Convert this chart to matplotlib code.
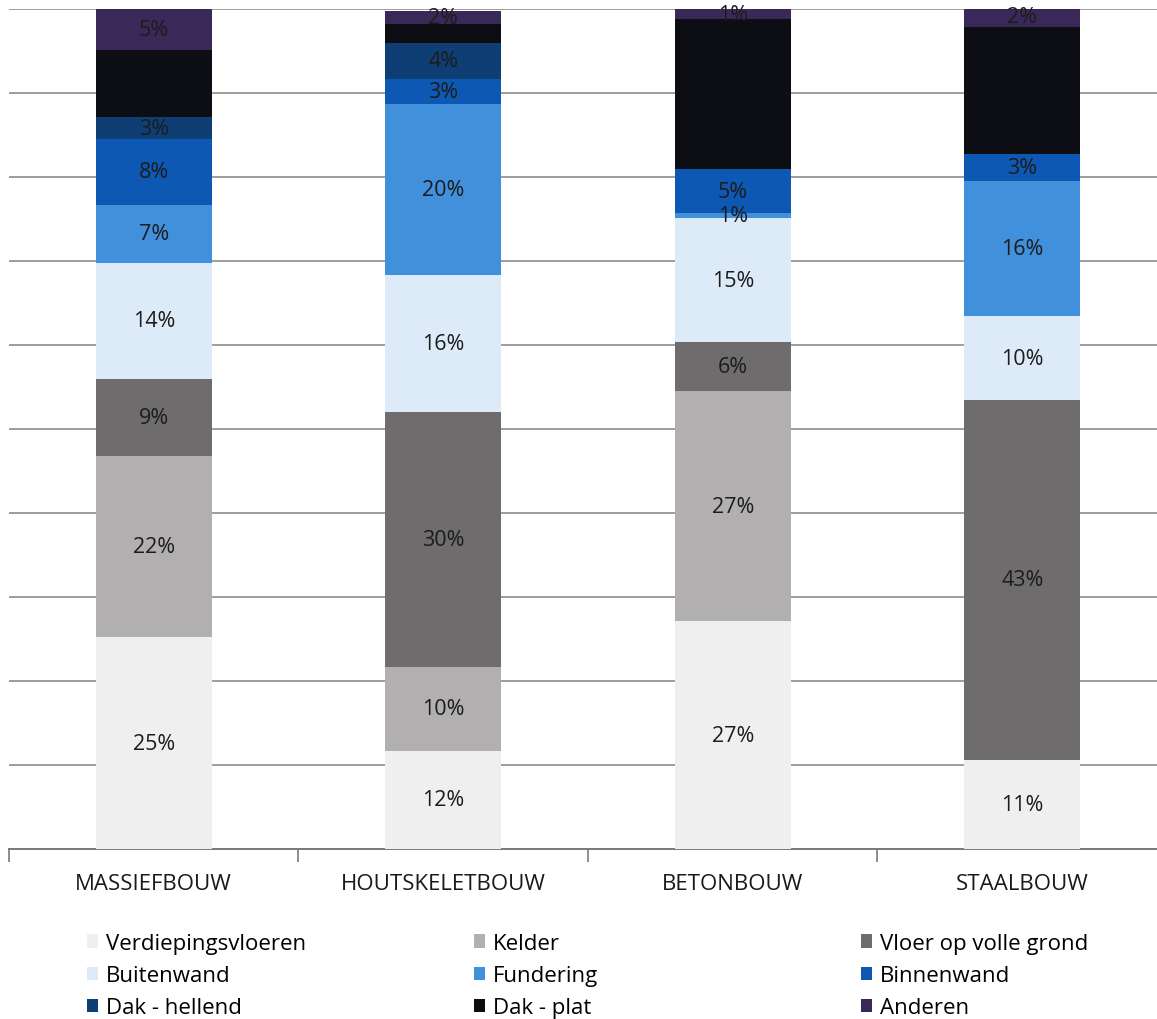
import matplotlib
matplotlib.use("Agg")
import matplotlib.pyplot as plt
import numpy as np

plt.rcParams['font.family'] = ['Open Sans', 'DejaVu Sans']

categories = ["MASSIEFBOUW", "HOUTSKELETBOUW", "BETONBOUW", "STAALBOUW"]

series_names = [
    "Verdiepingsvloeren", "Kelder", "Vloer op volle grond",
    "Buitenwand", "Fundering", "Binnenwand",
    "Dak - hellend", "Dak - plat", "Anderen",
]

verdiepingsvloeren = [25.2, 11.7, 27.1, 10.6]
kelder = [21.6, 10.0, 27.4, 0.0]
vloer_op_volle_grond = [9.2, 30.3, 5.8, 42.9]
buitenwand = [13.8, 16.3, 14.8, 9.9]
fundering = [6.9, 20.4, 0.6, 16.1]
binnenwand = [7.8, 3.0, 5.2, 3.2]
dak_hellend = [2.6, 4.3, 0.0, 0.0]
dak_plat = [8.0, 2.2, 17.9, 15.2]
anderen = [4.9, 1.6, 1.2, 2.4]

series_values = [
    verdiepingsvloeren, kelder, vloer_op_volle_grond,
    buitenwand, fundering, binnenwand,
    dak_hellend, dak_plat, anderen,
]

colors = [
    "#efefef", "#b2afb0", "#6f6c6d",
    "#ddebf8", "#4190dc", "#0c58b2",
    "#0e3e74", "#0c0e13", "#3a2858",
]

# the near-black "Dak - plat" segments carry no visible value label
unlabelled = {"Dak - plat"}

fig = plt.figure(figsize=(11.57, 10.2), dpi=100)
ax = fig.add_axes([9 / 1157, 170 / 1020, 1158 / 1157, 840 / 1020])

x = np.arange(len(categories))
bottom = np.zeros(len(categories))
handles = []
for name, vals, col in zip(series_names, series_values, colors):
    vals = np.array(vals, dtype=float)
    bars = ax.bar(x, vals, width=0.4, bottom=bottom, color=col,
                  label=name, zorder=3, linewidth=0)
    handles.append(bars)
    if name not in unlabelled:
        for xi, v, b in zip(x, vals, bottom):
            if v >= 0.5:
                ax.text(xi, b + v / 2, f"{v:.0f}%", ha="center",
                        va="center", fontsize=15.5, color="#1c1c1c",
                        zorder=4)
    bottom += vals

ax.set_xlim(-0.5, 3.5)
ax.set_ylim(0, 100)
ax.set_yticks(np.arange(0, 101, 10))
ax.yaxis.grid(True, color="#959595", linewidth=1.3, zorder=0)
ax.tick_params(axis="y", left=False, labelleft=False)
for side in ("top", "right", "left"):
    ax.spines[side].set_visible(False)
ax.spines["bottom"].set_color("#7a7a7a")
ax.spines["bottom"].set_linewidth(1.4)

ax.set_xticks(x)
ax.set_xticklabels(categories, fontsize=16, color="#1a1a1a")
ax.tick_params(axis="x", length=0, pad=17)
ax.set_xticks(np.arange(-0.5, 3.6, 1.0), minor=True)
ax.tick_params(axis="x", which="minor", length=9, width=1.2, color="#7a7a7a")

# Legend laid out as three columns of three entries
col_x = [87 / 1157, 474 / 1157, 861 / 1157]
for c in range(3):
    idx = [c, c + 3, c + 6]
    fig.legend([handles[i] for i in idx], [series_names[i] for i in idx],
               loc="upper left", bbox_to_anchor=(col_x[c], 1 - 934 / 1020),
               frameon=False, fontsize=16, handlelength=0.5,
               handleheight=0.55, handletextpad=0.35, labelspacing=0.5,
               borderaxespad=0, borderpad=0)

fig.savefig("out.png", dpi=100)
